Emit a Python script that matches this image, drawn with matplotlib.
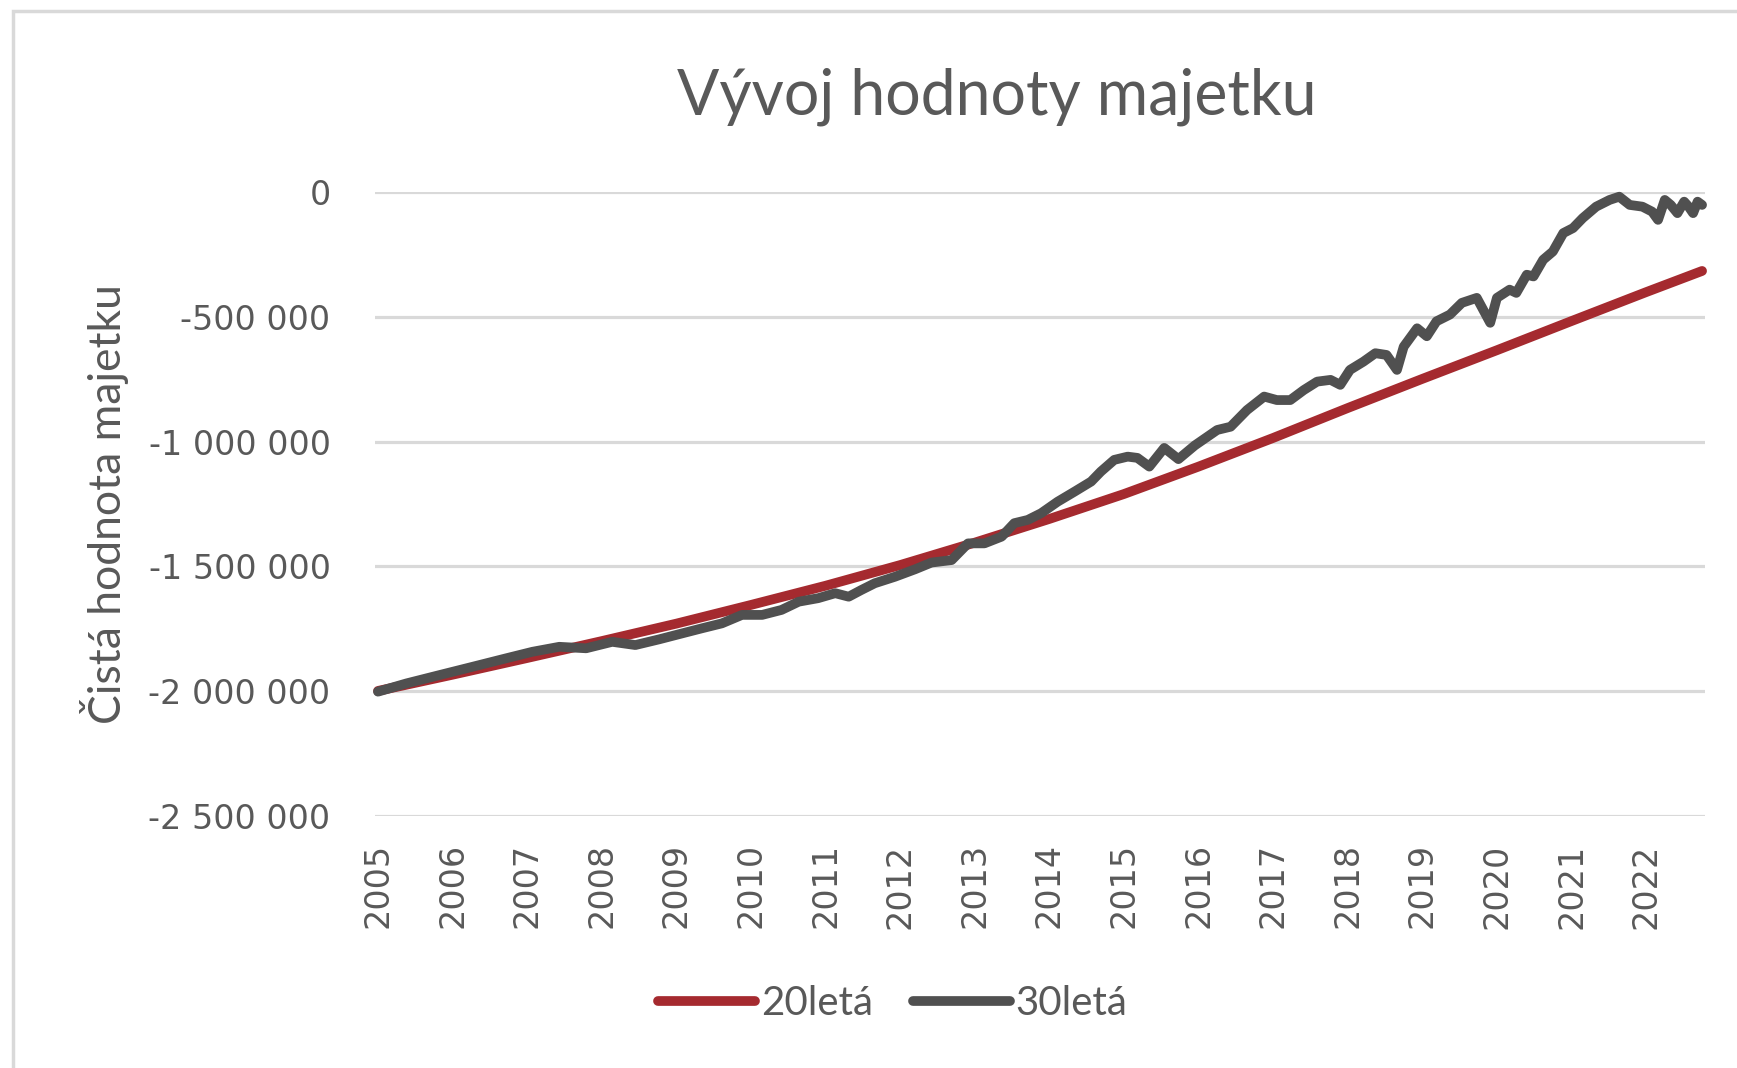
import matplotlib.pyplot as plt
from matplotlib.patches import Rectangle
from matplotlib.ticker import FuncFormatter

# 20letá hypotéka - roční body
t_20 = [2005, 2006, 2007, 2008, 2009, 2010, 2011, 2012, 2013, 2014,
        2015, 2016, 2017, 2018, 2019, 2020, 2021, 2022, 2022.75]
v_20 = [-2000000, -1935000, -1868000, -1800000, -1730000, -1655000, -1578000,
        -1495000, -1405000, -1310000, -1210000, -1100000, -985000, -865000,
        -748000, -633000, -516000, -400000, -315000]

# 30letá
t_30 = [2005.00, 2005.38, 2005.83, 2006.27, 2006.72, 2007.07, 2007.43, 2007.79,
        2008.14, 2008.45, 2008.77, 2009.08, 2009.34, 2009.61, 2009.88, 2010.15,
        2010.41, 2010.64, 2010.90, 2011.13, 2011.31, 2011.48, 2011.66, 2011.93,
        2012.20, 2012.42, 2012.69, 2012.91, 2013.13, 2013.36, 2013.53, 2013.71,
        2013.89, 2014.11, 2014.34, 2014.56, 2014.69, 2014.87, 2015.05, 2015.18,
        2015.34, 2015.54, 2015.73, 2015.95, 2016.25, 2016.43, 2016.65, 2016.88,
        2017.05, 2017.23, 2017.41, 2017.59, 2017.77, 2017.90, 2018.03, 2018.21,
        2018.37, 2018.52, 2018.66, 2018.75, 2018.93, 2019.06, 2019.19, 2019.37,
        2019.53, 2019.73, 2019.91, 2020.00, 2020.17, 2020.26, 2020.40, 2020.49,
        2020.62, 2020.75, 2020.89, 2021.02, 2021.15, 2021.33, 2021.51, 2021.64,
        2021.78, 2021.95, 2022.08, 2022.16, 2022.25, 2022.33, 2022.42, 2022.51,
        2022.57, 2022.63, 2022.69, 2022.75]
v_30 = [-2003000, -1970000, -1936000, -1903000, -1869000, -1843000, -1823000, -1829000,
        -1803000, -1816000, -1793000, -1769000, -1749000, -1729000, -1695000, -1695000,
        -1675000, -1642000, -1628000, -1608000, -1622000, -1595000, -1568000, -1542000,
        -1512000, -1485000, -1475000, -1408000, -1408000, -1381000, -1327000, -1314000,
        -1287000, -1241000, -1200000, -1160000, -1120000, -1073000, -1060000, -1065000,
        -1100000, -1025000, -1070000, -1015000, -953000, -940000, -873000, -819000,
        -833000, -833000, -793000, -759000, -752000, -772000, -712000, -679000,
        -645000, -652000, -712000, -619000, -545000, -577000, -517000, -490000,
        -443000, -423000, -523000, -423000, -390000, -403000, -330000, -337000,
        -270000, -237000, -163000, -143000, -103000, -57000, -30000, -17000,
        -50000, -57000, -77000, -110000, -30000, -50000, -83000, -37000,
        -57000, -83000, -37000, -50000]

years = list(range(2005, 2023))
labels = ['20letá', '30letá']

grey = '#595959'
nice = 'Lato'

fig = plt.figure(figsize=(17.37, 10.68), dpi=100)
ax = fig.add_axes([0.2159, 0.2364, 0.7657, 0.5834])

# ramecek grafu (useknuty vpravo a dole)
fig.patches.append(Rectangle((0.0075, -0.05), 1.2, 0.9897 + 0.05, transform=fig.transFigure,
                             fill=False, edgecolor='#d9d9d9', linewidth=2.5))

ax.plot(t_20, v_20, color='#a52a2f', linewidth=7, label=labels[0],
        solid_capstyle='round', solid_joinstyle='round', clip_on=False, zorder=3)
ax.plot(t_30, v_30, color='#505050', linewidth=7, label=labels[1],
        solid_capstyle='round', solid_joinstyle='round', clip_on=False, zorder=4)

ax.set_xlim(2004.96, 2022.79)
ax.set_ylim(-2500000, 0)
ax.set_yticks(range(-2500000, 1, 500000))
ax.yaxis.set_major_formatter(FuncFormatter(lambda v, p: f'{int(v):,}'.replace(',', ' ')))
ax.set_xticks(years)
ax.set_xticklabels([str(y) for y in years], rotation=90)

ax.grid(axis='y', color='#d9d9d9', linewidth=2.3)
ax.set_axisbelow(True)
for s in ax.spines.values():
    s.set_visible(False)
ax.tick_params(axis='both', length=0, labelsize=24, labelcolor=grey)
ax.tick_params(axis='y', pad=32)
ax.tick_params(axis='x', pad=20)

ax.set_ylabel('Čistá hodnota majetku', family=nice, fontsize=32, color=grey, labelpad=14)
fig.text(0.574, 0.909, 'Vývoj hodnoty majetku', family=nice, fontsize=45, color=grey,
         ha='center', va='center')

fig.legend(loc='center', bbox_to_anchor=(0.514, 0.06), ncol=2, frameon=False,
           prop={'family': nice, 'size': 29}, labelcolor=grey,
           handlelength=2.4, handletextpad=0.15, columnspacing=1.0)

plt.savefig('out.png', dpi=100)
plt.close()
